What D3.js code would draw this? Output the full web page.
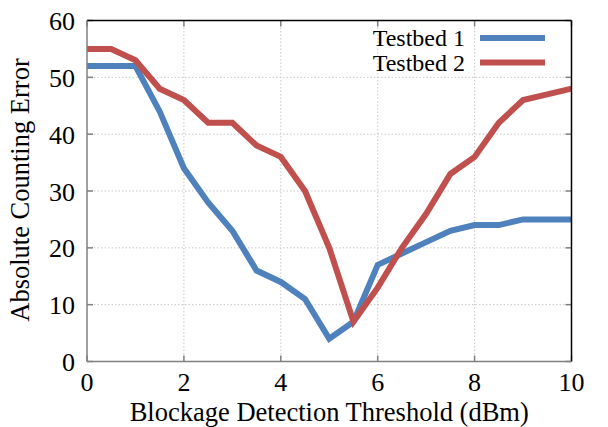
<!DOCTYPE html>
<html><head><meta charset="utf-8">
<script src="https://cdn.jsdelivr.net/npm/d3@7/dist/d3.min.js"></script>
<style>body{margin:0;background:#fff}svg{display:block}</style>
</head><body><svg id="c" width="608" height="427"></svg>
<script>
const thresholds = [0,0.5,1,1.5,2,2.5,3,3.5,4,4.5,5,5.5,6,6.5,7,7.5,8,8.5,9,9.5,10];
const testbed1 = [52,52,52,44,34,28,23,16,14,11,4,7,17,19,21,23,24,24,25,25,25];
const testbed2 = [55,55,53,48,46,42,42,38,36,30,20,7,13,20,26,33,36,42,46,47,48];
const seriesNames = ["Testbed 1","Testbed 2"];
const colors = ["#4f81bd","#c0504d"];
const xTicks = [0,2,4,6,8,10];
const yTicks = [0,10,20,30,40,50,60];

const FONT = "Liberation Serif";
const svg = d3.select("#c");
const L=87, R=571.5, T=20.5, B=361.5;
const x = d3.scaleLinear().domain([0,10]).range([L,R]);
const y = d3.scaleLinear().domain([0,60]).range([B,T]);

// grid
const g = svg.append("g");
g.selectAll(".gx").data(xTicks.slice(1,-1)).enter().append("line")
 .attr("x1",d=>x(d)).attr("x2",d=>x(d)).attr("y1",T).attr("y2",B)
 .attr("stroke","#c8c8c8").attr("stroke-width",1).attr("stroke-dasharray","1.5,2");
g.selectAll(".gy").data(yTicks.slice(1,-1)).enter().append("line")
 .attr("y1",d=>y(d)).attr("y2",d=>y(d)).attr("x1",L).attr("x2",R)
 .attr("stroke","#c8c8c8").attr("stroke-width",1).attr("stroke-dasharray","1.5,2");

// ticks (inward, grey)
g.selectAll(".tl").data(yTicks).enter().append("line")
 .attr("x1",L).attr("x2",L+6).attr("y1",d=>y(d)).attr("y2",d=>y(d)).attr("stroke","#808080").attr("stroke-width",1.5);
g.selectAll(".tr").data(yTicks).enter().append("line")
 .attr("x1",R-6).attr("x2",R).attr("y1",d=>y(d)).attr("y2",d=>y(d)).attr("stroke","#808080").attr("stroke-width",1.5);
g.selectAll(".tb").data(xTicks).enter().append("line")
 .attr("x1",d=>x(d)).attr("x2",d=>x(d)).attr("y1",B).attr("y2",B-6).attr("stroke","#808080").attr("stroke-width",1.5);
g.selectAll(".tt").data(xTicks).enter().append("line")
 .attr("x1",d=>x(d)).attr("x2",d=>x(d)).attr("y1",T).attr("y2",T+6).attr("stroke","#808080").attr("stroke-width",1.5);

// lines
const line = d3.line().x((d,i)=>x(thresholds[i])).y(d=>y(d));
[testbed1,testbed2].forEach((s,k)=>{
  svg.append("path").datum(s).attr("d",line).attr("fill","none")
   .attr("stroke",colors[k]).attr("stroke-width",6).attr("stroke-linejoin","miter").attr("stroke-linecap","butt");
});

// border
svg.append("line").attr("x1",L).attr("x2",R).attr("y1",T).attr("y2",T).attr("stroke","#000").attr("stroke-width",1.5);
svg.append("line").attr("x1",R).attr("x2",R).attr("y1",T).attr("y2",B).attr("stroke","#000").attr("stroke-width",1.5);
svg.append("line").attr("x1",L).attr("x2",L).attr("y1",T).attr("y2",B).attr("stroke","#808080").attr("stroke-width",1.5);
svg.append("line").attr("x1",L).attr("x2",R).attr("y1",B).attr("y2",B).attr("stroke","#808080").attr("stroke-width",1.5);

// tick labels
svg.selectAll(".xl").data(xTicks).enter().append("text").attr("font-family",FONT)
 .attr("x",d=>x(d)).attr("y",391).attr("text-anchor","middle").attr("font-size",26).text(d=>d);
svg.selectAll(".yl").data(yTicks).enter().append("text").attr("font-family",FONT)
 .attr("x",75).attr("y",d=>y(d)+9.5).attr("text-anchor","end").attr("font-size",26).text(d=>d);

// axis titles
svg.append("text").attr("font-family",FONT).attr("x",x(5)).attr("y",421).attr("text-anchor","middle").attr("font-size",26.5)
 .text("Blockage Detection Threshold (dBm)");
svg.append("text").attr("font-family",FONT).attr("transform","translate(28.5,190) rotate(-90)").attr("text-anchor","middle").attr("font-size",26.5)
 .text("Absolute Counting Error");

// legend
seriesNames.forEach((n,k)=>{
  const ly = 38 + k*24.5;
  svg.append("text").attr("font-family",FONT).attr("x",465).attr("y",ly+8).attr("text-anchor","end").attr("font-size",24).text(n);
  svg.append("line").attr("x1",480).attr("x2",545).attr("y1",ly).attr("y2",ly).attr("stroke",colors[k]).attr("stroke-width",6);
});
</script></body></html>
